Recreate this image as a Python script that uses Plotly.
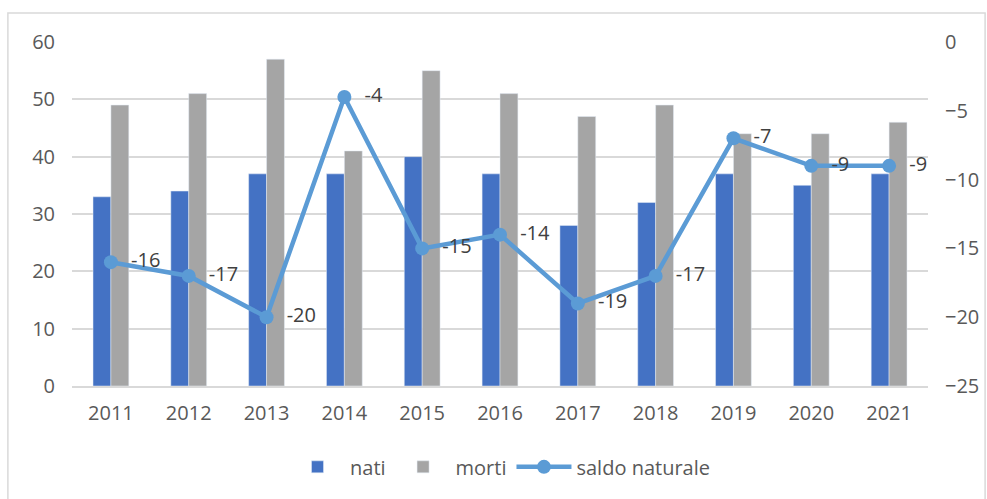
import plotly.graph_objects as go

anni = ["2011", "2012", "2013", "2014", "2015", "2016", "2017", "2018", "2019", "2020", "2021"]
nati = [33, 34, 37, 37, 40, 37, 28, 32, 37, 35, 37]
morti = [49, 51, 57, 41, 55, 51, 47, 49, 44, 44, 46]
saldo = [-16, -17, -20, -4, -15, -14, -19, -17, -7, -9, -9]

FONT = "Open Sans"
TXT = "#595959"
FS = 20

fig = go.Figure()
fig.add_trace(go.Bar(x=anni, y=nati, name="nati", marker_color="#4472C4"))
fig.add_trace(go.Bar(x=anni, y=morti, name="morti", marker_color="#A5A5A5"))
fig.add_trace(go.Scatter(
    x=anni, y=saldo, name="saldo naturale", yaxis="y2",
    mode="lines+markers+text", text=["  " + str(v) for v in saldo],
    textposition="middle right", textfont=dict(size=FS, color="#404040", family=FONT),
    line=dict(color="#5B9BD5", width=4.5), marker=dict(size=14, color="#5B9BD5"),
    cliponaxis=False,
))

fig.update_layout(
    width=987, height=499,
    margin=dict(l=72, r=59, t=42, b=113, autoexpand=False),
    paper_bgcolor="white", plot_bgcolor="white",
    font=dict(family=FONT, size=FS, color=TXT),
    barmode="group", bargap=0.54, bargroupgap=0,
    showlegend=True,
    legend=dict(orientation="h", x=0.5, xanchor="center", y=-0.235, yanchor="middle",
                font=dict(size=FS, color=TXT), traceorder="normal", itemwidth=55),
    xaxis=dict(range=[-0.5, len(anni) - 0.5], showgrid=False, showline=True,
               linecolor="#D9D9D9", linewidth=2, ticklabelstandoff=8,
               ticks="", tickfont=dict(size=FS, color=TXT), automargin=False),
    yaxis=dict(range=[0, 60], dtick=10, showgrid=True, gridcolor="#D9D9D9", gridwidth=1.5,
               zeroline=False, ticks="", tickfont=dict(size=FS, color=TXT), ticklabelstandoff=16,
               automargin=False),
    yaxis2=dict(range=[-25, 0], dtick=5, overlaying="y", side="right", showgrid=False,
                zeroline=False, ticks="", tickfont=dict(size=FS, color=TXT), ticklabelstandoff=16,
                automargin=False),
    shapes=[dict(type="rect", xref="paper", yref="paper", x0=-0.0749, x1=1.0667,
                 y0=-0.36, y1=1.0843, line=dict(color="#D9D9D9", width=1.5), layer="below")],
)

fig.write_html("out.html", config={"displayModeBar": False},
               post_script="document.body.style.margin='0';document.body.style.overflow='hidden';")
